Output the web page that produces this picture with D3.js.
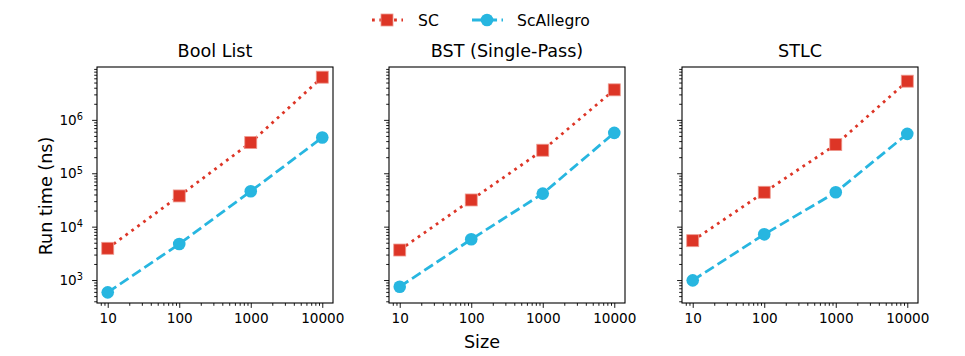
<!DOCTYPE html>
<html>
<head>
<meta charset="utf-8">
<script src="https://cdn.jsdelivr.net/npm/d3@7"></script>
<style>
  body { margin: 0; background: #fff; }
  svg { font-family: "DejaVu Sans", sans-serif; }
  .domain { display: none; }
</style>
</head>
<body>
<svg id="chart" width="965" height="356"></svg>
<script>
const sizes = [10, 100, 1000, 10000]
const panelTitles = ["Bool List", "BST (Single-Pass)", "STLC"]
const seriesNames = ["SC", "ScAllegro"]

// run times in ns, one array per panel
const scTimes = [
    [3930, 37600, 376000, 6300000],
    [3650, 31600, 270000, 3650000],
    [5460, 44000, 344000, 5300000]
]
const scAllegroTimes = [
    [588, 4730, 46000, 466000],
    [750, 5790, 41600, 570000],
    [986, 7180, 44000, 547000]
]
const yTickValues = [1e3, 1e4, 1e5, 1e6]
const yTickExp = ["3", "4", "5", "6"]

const red = "#dd3526"
const blue = "#27b6e0"

var svg = d3.select("#chart")

const panelLeft = [97, 389, 682]
const panelW = 236
const plotTop = 67, plotBottom = 303

// 5% log margins like matplotlib
var x = d3.scaleLog()
    .domain([Math.pow(10, 0.85), Math.pow(10, 4.15)])
    .range([0, panelW])

var y = d3.scaleLog()
    .domain([Math.pow(10, 2.57), Math.pow(10, 6.99)])
    .range([plotBottom - plotTop, 0])

const minorX = []
for (let e = 0; e < 5; e++) for (let m = 2; m < 10; m++) {
    let v = m * Math.pow(10, e)
    if (v > x.domain()[0] && v < x.domain()[1]) minorX.push(v)
}
const minorY = []
for (let e = 2; e < 7; e++) for (let m = 2; m < 10; m++) {
    let v = m * Math.pow(10, e)
    if (v > y.domain()[0] && v < y.domain()[1]) minorY.push(v)
}

var line = d3.line()
    .x((d, i) => x(sizes[i]))
    .y(d => y(d))

panelTitles.forEach((title, p) => {
    const g = svg.append("g").attr("transform", `translate(${panelLeft[p]},${plotTop})`)
    const h = plotBottom - plotTop

    // minor ticks
    g.append("g").attr("transform", `translate(0,${h})`)
        .call(d3.axisBottom(x).tickValues(minorX).tickSize(2.8).tickFormat(""))
    g.append("g")
        .call(d3.axisLeft(y).tickValues(minorY).tickSize(2.8).tickFormat(""))

    // major ticks
    const xa = g.append("g").attr("transform", `translate(0,${h})`)
        .call(d3.axisBottom(x).tickValues(sizes).tickSize(4.9).tickPadding(5).tickFormat(d3.format("d")))
    xa.attr("font-family", null).attr("font-size", null)
    xa.selectAll("text").style("font-size", "13.6px").style("font-family", "'DejaVu Sans'").attr("fill", "#000")
    const ya = g.append("g")
        .call(d3.axisLeft(y).tickValues(yTickValues).tickSize(4.9).tickPadding(5).tickFormat(""))

    if (p === 0) {
        ya.selectAll(".tick").append("text")
            .attr("x", -14).attr("dy", "0.32em")
            .attr("text-anchor", "end")
            .style("font-size", "13.6px").style("font-family", "'DejaVu Sans'").attr("fill", "#000")
            .each(function (d, i) {
                const t = d3.select(this)
                t.append("tspan").text("10")
                t.append("tspan").attr("dy", "-0.45em").style("font-size", "9.8px").text(yTickExp[i])
            })
    }
    g.selectAll(".tick line").attr("stroke", "#000").attr("stroke-width", 0.9)

    // frame
    g.append("rect").attr("width", panelW).attr("height", h)
        .attr("fill", "none").attr("stroke", "#000").attr("stroke-width", 1.1)

    g.append("text").attr("x", panelW / 2).attr("y", -10)
        .attr("text-anchor", "middle").style("font-size", "17.6px").text(title)

    // SC series
    g.append("path").datum(scTimes[p]).attr("d", line)
        .attr("fill", "none").attr("stroke", red).attr("stroke-width", 2.78)
        .attr("stroke-dasharray", "2.78,4.58")
    g.selectAll(".sq").data(scTimes[p]).join("rect")
        .attr("x", (d, i) => x(sizes[i]) - 6).attr("y", d => y(d) - 6)
        .attr("width", 12).attr("height", 12)
        .attr("fill", red).attr("stroke", "#ee9a90").attr("stroke-width", 0.8)

    // ScAllegro series
    g.append("path").datum(scAllegroTimes[p]).attr("d", line)
        .attr("fill", "none").attr("stroke", blue).attr("stroke-width", 2.78)
        .attr("stroke-dasharray", "10.3,4.45")
    g.selectAll(".ci").data(scAllegroTimes[p]).join("circle")
        .attr("cx", (d, i) => x(sizes[i])).attr("cy", d => y(d)).attr("r", 6.3)
        .attr("fill", blue)
})

// axis labels
svg.append("text").attr("x", 482).attr("y", 348).attr("text-anchor", "middle")
    .style("font-size", "17.6px").text("Size")
svg.append("text").attr("transform", "translate(52,196) rotate(-90)")
    .attr("text-anchor", "middle").style("font-size", "17.6px").text("Run time (ns)")

// legend
const legend = svg.append("g").attr("transform", "translate(0,20)")
legend.append("line").attr("x1", 372).attr("x2", 403).attr("stroke", red)
    .attr("stroke-width", 2.78).attr("stroke-dasharray", "2.78,4.58")
legend.append("rect").attr("x", 381).attr("y", -6).attr("width", 12).attr("height", 12)
    .attr("fill", red).attr("stroke", "#ee9a90").attr("stroke-width", 0.8)
legend.append("text").attr("x", 418).attr("y", 5.5).style("font-size", "15.6px").text(seriesNames[0])
legend.append("line").attr("x1", 472).attr("x2", 503).attr("stroke", blue)
    .attr("stroke-width", 2.78).attr("stroke-dasharray", "10.3,4.45")
legend.append("circle").attr("cx", 487).attr("cy", 0).attr("r", 6.3).attr("fill", blue)
legend.append("text").attr("x", 517).attr("y", 5.5).style("font-size", "15.6px").text(seriesNames[1])
</script>
</body>
</html>
